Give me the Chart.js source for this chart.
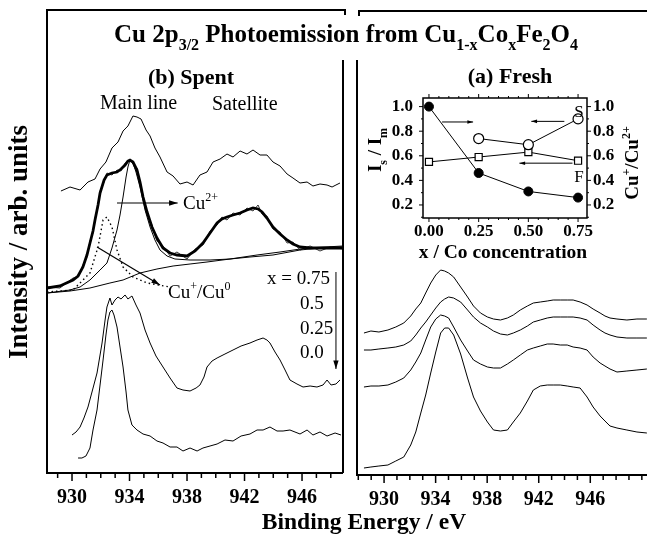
<!DOCTYPE html>
<html>
<head>
<meta charset="utf-8">
<script src="https://cdn.jsdelivr.net/npm/chart.js@4.4.1/dist/chart.umd.min.js"></script>
<style>
html, body { margin: 0; padding: 0; background: #fff; }
#wrap { position: relative; width: 647px; height: 537px; overflow: hidden; background: #fff; }
#wrap canvas { position: absolute; left: 0; top: 0; }
</style>
</head>
<body>
<div id="wrap">
  <canvas id="spentChart" width="647" height="537"></canvas>
  <canvas id="freshChart" width="647" height="537"></canvas>
  <canvas id="insetChart" width="647" height="537"></canvas>
</div>
<script>
const SERIF = '"Liberation Serif", "Times New Roman", serif';

// ---- (b) Spent: binding energy (eV) and intensity (arb. units) ----
const spent075E = [929.23,929.86,930.56,931.11,931.60,931.95,932.36,932.78,933.20,933.55,933.89,934.24,934.52,934.80,935.15,935.43,935.77,936.12,936.61,937.03,937.51,938.00,938.42,938.90,939.39,939.81,940.30,940.78,941.20,941.69,942.17,942.59,943.08,943.56,943.98,944.47,944.96,945.37,945.86,946.35,946.76,947.25,947.74,948.09,948.36,948.64];
const spent075I = [282,286,283,291,294,304,311,325,331,342,347,357,356,354,343,337,325,316,301,297,289,291,288,298,301,311,314,319,316,322,319,323,318,318,311,307,299,295,290,291,287,289,288,286,288,290];

const spent050E = [928.26,929.16,930.07,930.42,930.76,931.04,931.25,931.46,931.60,931.81,931.95,932.23,932.43,932.78,933.13,933.41,933.69,933.89,934.03,934.24,934.52,934.73,934.94,935.22,935.56,935.91,936.33,936.82,937.30,938.00,938.56,939.11,939.60,940.09,940.43,940.78,941.20,941.69,942.17,942.59,942.94,943.22,943.56,943.98,944.47,944.96,945.37,945.86,946.56,947.25,947.95,948.85];
const spent050Fit = [185,187,193,197,206,218,230,242,253,268,280,293,298,300,301,304,308,312,313,311,303,291,276,261,246,235,225,220,218,217,222,230,240,250,254,256,258,260,263,265,264,261,255,246,239,233,229,226,225,225,225,225];
const spent050Raw = [186,185,195,196,208,216,232,240,255,266,282,291,300,298,303,302,310,311,314,309,305,289,278,259,248,232,227,217,221,214,224,228,242,248,256,253,260,258,265,262,268,259,257,244,241,230,231,223,227,222,226,224];

const cu2E = [928.26,929.86,930.56,931.25,931.95,932.43,932.78,933.13,933.34,933.55,933.76,933.89,934.03,934.24,934.45,934.73,935.08,935.43,935.77,936.12,936.61,937.16,938.21,939.60,940.99,942.38,943.98,945.86,947.25,948.85];
const cu2I = [180,183,186,193,203,210,225,243,258,276,296,306,313,310,301,286,263,246,233,223,217,214,213,213,214,216,218,223,225,226];

const cu1E = [928.26,930.07,931.25,931.81,932.16,932.43,932.78,933.13,933.55,934.24,935.22,936.82];
const cu1I = [181,183,200,226,253,256,246,223,206,196,190,186];

const bgE = [928.26,929.86,931.25,932.64,933.55,934.73,935.91,937.03,938.21,939.39,940.99,942.87,944.47,946.35,948.85];
const bgI = [180,182,185,190,193,200,204,207,209,211,214,218,221,225,227];

const spent025E = [930.00,930.28,930.56,930.83,931.11,931.39,931.74,931.95,932.09,932.30,932.43,932.64,932.78,932.99,933.20,933.41,933.69,933.89,934.17,934.45,934.73,935.08,935.43,935.84,936.33,936.82,937.30,937.72,938.21,938.63,938.90,939.18,939.39,939.74,940.09,940.64,941.20,941.76,942.38,942.87,943.29,943.56,943.77,944.12,944.47,944.82,945.16,945.65,946.07,946.56,947.04,947.46,947.74,948.02,948.36,948.64];
const spent025I = [38,41,46,55,66,81,100,118,130,153,166,175,168,173,176,174,178,174,177,168,160,143,130,117,106,95,85,83,82,85,88,96,106,112,115,119,123,127,130,133,135,133,130,121,113,103,93,89,86,87,86,88,93,88,89,93];

const spent000E = [930.42,930.69,930.97,931.11,931.25,931.46,931.74,931.95,932.16,932.36,932.50,932.64,932.78,932.92,933.13,933.34,933.55,933.76,933.89,934.17,934.52,934.94,935.43,935.91,936.33,936.82,937.30,937.72,938.21,938.70,939.11,939.60,940.09,940.64,941.20,941.76,942.38,942.87,943.29,943.77,944.26,944.68,945.16,945.86,946.35,946.76,947.25,947.74,948.30,948.71];
const spent000I = [15,15,17,21,25,43,63,88,113,138,153,161,163,158,146,126,106,81,63,48,43,39,37,32,30,26,26,22,25,22,25,27,29,33,32,37,39,43,43,46,42,42,43,39,43,38,41,37,40,38];

// ---- (a) Fresh ----
const freshE = [928.44,928.98,929.60,930.30,930.91,931.53,932.07,932.46,932.85,933.23,933.62,934.01,934.39,934.70,935.01,935.40,935.94,936.48,936.94,937.48,938.02,938.49,939.03,939.57,940.03,940.57,941.12,941.58,942.12,942.66,943.12,943.67,944.21,944.67,945.21,945.75,946.22,946.76,947.14,947.53,948.07,948.84,949.62,950.39];
const fresh075I = [142,144,143,145,148,152,159,166,172,182,192,200,205,204,202,198,188,178,169,162,158,156,155,157,160,165,169,172,173,174,175,175,175,175,173,170,166,162,159,157,156,155,156,156];
const fresh050I = [125,125,126,127,128,130,134,140,147,153,160,167,173,176,178,177,173,165,158,152,148,144,141,140,142,145,149,153,155,157,158,158,158,158,157,155,150,145,142,140,138,137,137,137];
const fresh025I = [88,89,89,90,93,97,105,113,122,135,148,156,160,159,157,148,135,124,115,111,108,107,107,111,115,120,125,127,129,131,131,130,130,128,127,125,118,112,109,106,103,104,105,106];
const fresh000I = [7,8,9,10,14,18,30,43,62,80,102,123,142,147,147,140,121,97,78,64,53,45,44,45,53,62,74,85,89,90,90,90,89,88,87,78,68,59,54,49,47,45,43,42];

const energyTicks = [930, 934, 938, 942, 946];

// ---- inset: ratios vs Co concentration ----
const conc = [0, 0.25, 0.5, 0.75];
const cuRatio = [1.0, 0.46, 0.31, 0.26];      // Cu+/Cu2+ (right axis)
const spentRatio = [null, 0.74, 0.69, 0.90];  // Is/Im spent (S)
const freshRatio = [0.55, 0.59, 0.63, 0.56];  // Is/Im fresh (F)
const concTicks = [0, 0.25, 0.5, 0.75];
const ratioTicks = [0.2, 0.4, 0.6, 0.8, 1.0];

function pts(xs, ys) {
    return xs.map((x, i) => ({ x: x, y: ys[i] })).filter(p => p.y !== null);
}

function trace(xs, ys, extra) {
    return Object.assign({
        data: pts(xs, ys), borderColor: '#000', borderWidth: 1,
        pointRadius: 0, fill: false, tension: 0
    }, extra || {});
}

function arrow(ctx, x1, y1, x2, y2, head) {
    head = head || 8;
    const a = Math.atan2(y2 - y1, x2 - x1);
    ctx.beginPath();
    ctx.moveTo(x1, y1);
    ctx.lineTo(x2, y2);
    ctx.stroke();
    ctx.beginPath();
    ctx.moveTo(x2, y2);
    ctx.lineTo(x2 - head * Math.cos(a - 0.3), y2 - head * Math.sin(a - 0.3));
    ctx.lineTo(x2 - head * Math.cos(a + 0.3), y2 - head * Math.sin(a + 0.3));
    ctx.closePath();
    ctx.fill();
}

// text with sub/superscripts: parts = [[text, 'sub'|'sup'|undefined], ...]
function drawRich(ctx, parts, x, y, size, bold, align) {
    const w = bold ? 'bold ' : '';
    const small = Math.round(size * 0.62);
    let total = 0;
    parts.forEach(p => {
        ctx.font = w + (p[1] ? small : size) + 'px ' + SERIF;
        total += ctx.measureText(p[0]).width;
    });
    let cx = align === 'center' ? x - total / 2 : x;
    ctx.textBaseline = 'alphabetic';
    ctx.textAlign = 'left';
    parts.forEach(p => {
        ctx.font = w + (p[1] ? small : size) + 'px ' + SERIF;
        let dy = 0;
        if (p[1] === 'sub') dy = size * 0.3;
        if (p[1] === 'sup') dy = -size * 0.42;
        ctx.fillText(p[0], cx, y + dy);
        cx += ctx.measureText(p[0]).width;
    });
}

// frame of one panel; the borders between the panels start below the title
function panelFrame(side) {
    return {
        id: 'panelFrame',
        afterDraw(chart) {
            const { ctx, chartArea: a } = chart;
            const x = chart.scales.x;
            const gapEnd = 60;
            ctx.save();
            ctx.strokeStyle = '#000';
            ctx.lineWidth = 2;
            ctx.beginPath();
            if (side === 'left') {
                ctx.moveTo(a.left, a.bottom);
                ctx.lineTo(a.left, a.top);
                ctx.lineTo(a.right + 2, a.top);
                ctx.lineTo(a.right + 2, a.top + 5);
                ctx.moveTo(a.right, gapEnd);
                ctx.lineTo(a.right, a.bottom);
            } else {
                ctx.moveTo(a.left + 2, a.top + 5);
                ctx.lineTo(a.left + 2, a.top);
                ctx.lineTo(a.right, a.top);
                ctx.moveTo(a.left, gapEnd);
                ctx.lineTo(a.left, a.bottom);
            }
            ctx.moveTo(a.left - 1, a.bottom);
            ctx.lineTo(a.right, a.bottom);
            ctx.stroke();
            ctx.lineWidth = 1.5;
            ctx.beginPath();
            for (let e = Math.ceil(x.min); e <= x.max; e++) {
                const px = x.getPixelForValue(e);
                const len = energyTicks.includes(e) ? 8 : 5;
                ctx.moveTo(px, a.bottom);
                ctx.lineTo(px, a.bottom + len);
            }
            ctx.stroke();
            ctx.restore();
        }
    };
}

const spentNotes = {
    id: 'spentNotes',
    afterDraw(chart) {
        const ctx = chart.ctx;
        const x = chart.scales.x, y = chart.scales.y;
        ctx.save();
        ctx.fillStyle = '#000';
        ctx.strokeStyle = '#000';
        // figure title and axis titles
        drawRich(ctx, [['Cu 2p'], ['3/2', 'sub'], [' Photoemission from Cu'], ['1-x', 'sub'], ['Co'], ['x', 'sub'], ['Fe'], ['2', 'sub'], ['O'], ['4', 'sub']], 346, 42, 25, true, 'center');
        ctx.font = 'bold 23.5px ' + SERIF;
        ctx.textAlign = 'center';
        ctx.fillText('Binding Energy / eV', 364, 529);
        ctx.save();
        ctx.translate(20, 242);
        ctx.rotate(-Math.PI / 2);
        ctx.font = 'bold 27px ' + SERIF;
        ctx.textBaseline = 'middle';
        ctx.textAlign = 'center';
        ctx.fillText('Intensity / arb. units', 0, 0);
        ctx.restore();
        // panel labels
        ctx.font = 'bold 22px ' + SERIF;
        ctx.textAlign = 'center';
        ctx.textBaseline = 'alphabetic';
        ctx.fillText('(b) Spent', 191, 84);
        ctx.fillText('(a) Fresh', 510, 83);
        ctx.font = '20px ' + SERIF;
        ctx.textAlign = 'left';
        ctx.fillText('Main line', 100, 109);
        ctx.fillText('Satellite', 212, 110);
        // component labels
        ctx.lineWidth = 1.2;
        arrow(ctx, x.getPixelForValue(933.13), y.getPixelForValue(270), x.getPixelForValue(937.35), y.getPixelForValue(270), 9);
        drawRich(ctx, [['Cu'], ['2+', 'sup']], 183, 209, 19, false, 'left');
        arrow(ctx, x.getPixelForValue(931.74), y.getPixelForValue(226), x.getPixelForValue(936.12), y.getPixelForValue(188), 9);
        drawRich(ctx, [['Cu'], ['+', 'sup'], ['/Cu'], ['0', 'sup']], 168, 298, 19, false, 'left');
        // composition labels
        ctx.font = '19px ' + SERIF;
        ctx.textAlign = 'left';
        ctx.fillText('x = 0.75', 267, 284);
        ctx.fillText('0.5', 300, 309);
        ctx.fillText('0.25', 300, 334);
        ctx.fillText('0.0', 300, 358);
        ctx.lineWidth = 1;
        arrow(ctx, x.getPixelForValue(948.36), y.getPixelForValue(201), x.getPixelForValue(948.36), y.getPixelForValue(104), 9);
        ctx.restore();
    }
};

function energyAxis(min, max, height) {
    return {
        type: 'linear', min: min, max: max,
        afterBuildTicks: s => { s.ticks = energyTicks.map(v => ({ value: v })); },
        afterFit: s => { s.height = height; },
        grid: { display: false, drawTicks: false },
        border: { display: false },
        ticks: {
            padding: 13, color: '#000', maxRotation: 0, autoSkip: false,
            font: { family: SERIF, size: 20, weight: 'bold' }
        }
    };
}

const baseOptions = {
    responsive: false,
    animation: false,
    events: [],
    plugins: { legend: { display: false }, tooltip: { enabled: false } }
};

new Chart(document.getElementById('spentChart'), {
    type: 'line',
    data: {
        datasets: [
            trace(spent075E, spent075I),
            trace(spent050E, spent050Fit, { borderWidth: 2.8 }),
            trace(spent050E, spent050Raw, { borderWidth: 0.8 }),
            trace(cu2E, cu2I),
            trace(cu1E, cu1I, { borderDash: [1.5, 3], borderWidth: 1.4 }),
            trace(bgE, bgI),
            trace(spent025E, spent025I),
            trace(spent000E, spent000I)
        ]
    },
    options: Object.assign({}, baseOptions, {
        layout: { padding: { left: 47, right: 304, top: 10, bottom: 0 } },
        scales: {
            x: energyAxis(928.26, 948.85, 64),
            y: { display: false, min: 0, max: 463 }
        }
    }),
    plugins: [panelFrame('left'), spentNotes]
});

new Chart(document.getElementById('freshChart'), {
    type: 'line',
    data: {
        datasets: [
            trace(freshE, fresh075I),
            trace(freshE, fresh050I),
            trace(freshE, fresh025I),
            trace(freshE, fresh000I)
        ]
    },
    options: Object.assign({}, baseOptions, {
        layout: { padding: { left: 357, right: 0, top: 11, bottom: 0 } },
        scales: {
            x: energyAxis(927.9, 950.4, 62),
            y: { display: false, min: 0, max: 464 }
        }
    }),
    plugins: [panelFrame('right')]
});

const insetDecor = {
    id: 'insetDecor',
    afterDraw(chart) {
        const { ctx, chartArea: a } = chart;
        const x = chart.scales.x, y = chart.scales.y;
        ctx.save();
        ctx.strokeStyle = '#000';
        ctx.fillStyle = '#000';
        ctx.lineWidth = 1.5;
        ctx.strokeRect(a.left, a.top, a.right - a.left, a.bottom - a.top);
        ctx.lineWidth = 1;
        ctx.beginPath();
        for (let i = 0; i <= 16; i++) {
            const v = i * 0.05;
            if (v > x.max) break;
            const px = x.getPixelForValue(v);
            const len = i % 5 === 0 ? 4 : 2;
            ctx.moveTo(px, a.bottom); ctx.lineTo(px, a.bottom + len);
            ctx.moveTo(px, a.top); ctx.lineTo(px, a.top - len);
        }
        for (let i = 1; i <= 10; i++) {
            const v = i * 0.1;
            const py = y.getPixelForValue(v);
            const len = i % 2 === 0 ? 4 : 2;
            ctx.moveTo(a.left, py); ctx.lineTo(a.left - len, py);
            ctx.moveTo(a.right, py); ctx.lineTo(a.right + len, py);
        }
        ctx.stroke();
        // arrows pointing at the axis each series uses
        ctx.lineWidth = 1;
        arrow(ctx, x.getPixelForValue(0.066), y.getPixelForValue(0.875), x.getPixelForValue(0.222), y.getPixelForValue(0.875), 6);
        arrow(ctx, x.getPixelForValue(0.681), y.getPixelForValue(0.88), x.getPixelForValue(0.515), y.getPixelForValue(0.88), 6);
        arrow(ctx, x.getPixelForValue(0.722), y.getPixelForValue(0.54), x.getPixelForValue(0.455), y.getPixelForValue(0.54), 6);
        ctx.font = '17px ' + SERIF;
        ctx.textAlign = 'center';
        ctx.textBaseline = 'middle';
        ctx.fillText('S', x.getPixelForValue(0.755), y.getPixelForValue(0.955));
        ctx.fillText('F', x.getPixelForValue(0.755), y.getPixelForValue(0.425));
        // axis titles
        ctx.font = 'bold 19.5px ' + SERIF;
        ctx.fillText('x / Co concentration', 503, 253);
        ctx.save();
        ctx.translate(381, 150);
        ctx.rotate(-Math.PI / 2);
        drawRich(ctx, [['I'], ['s', 'sub'], [' / I'], ['m', 'sub']], 0, 0, 19, true, 'center');
        ctx.restore();
        ctx.save();
        ctx.translate(638, 163);
        ctx.rotate(-Math.PI / 2);
        drawRich(ctx, [['Cu'], ['+', 'sup'], ['/Cu'], ['2+', 'sup']], 0, 0, 19, true, 'center');
        ctx.restore();
        ctx.restore();
    }
};

function ratioAxis(position, pad) {
    return {
        position: position, min: 0.094, max: 1.07,
        afterBuildTicks: s => { s.ticks = ratioTicks.map(v => ({ value: v })); },
        afterFit: s => { s.width = 45; },
        grid: { display: false, drawTicks: false },
        border: { display: false },
        ticks: {
            padding: pad, color: '#000',
            font: { family: SERIF, size: 17, weight: 'bold' },
            callback: v => v.toFixed(1)
        }
    };
}

new Chart(document.getElementById('insetChart'), {
    type: 'line',
    data: {
        datasets: [
            {
                data: pts(conc, cuRatio), yAxisID: 'y1', borderColor: '#000', borderWidth: 1,
                pointStyle: 'circle', pointRadius: 4.5, pointBackgroundColor: '#000', pointBorderColor: '#000'
            },
            {
                data: pts(conc, spentRatio), yAxisID: 'y', borderColor: '#000', borderWidth: 1,
                pointStyle: 'circle', pointRadius: 5, pointBackgroundColor: '#fff', pointBorderColor: '#000', pointBorderWidth: 1.2
            },
            {
                data: pts(conc, freshRatio), yAxisID: 'y', borderColor: '#000', borderWidth: 1,
                pointStyle: 'rect', pointRadius: 5, pointBackgroundColor: '#fff', pointBorderColor: '#000', pointBorderWidth: 1.2
            }
        ]
    },
    options: Object.assign({}, baseOptions, {
        layout: { padding: { left: 378, right: 15, top: 98, bottom: 279 } },
        scales: {
            x: {
                type: 'linear', min: -0.03, max: 0.795,
                afterBuildTicks: s => { s.ticks = concTicks.map(v => ({ value: v })); },
                afterFit: s => { s.height = 40; },
                grid: { display: false, drawTicks: false },
                border: { display: false },
                ticks: {
                    padding: 3, color: '#000', maxRotation: 0, autoSkip: false,
                    font: { family: SERIF, size: 17, weight: 'bold' },
                    callback: v => v.toFixed(2)
                }
            },
            y: ratioAxis('left', 10),
            y1: ratioAxis('right', 6)
        }
    }),
    plugins: [insetDecor]
});
</script>
</body>
</html>
